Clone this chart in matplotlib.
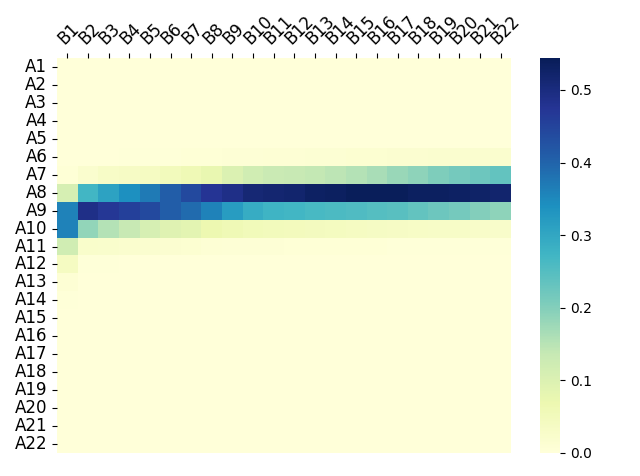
import numpy as np
import matplotlib
matplotlib.use("Agg")
import matplotlib.pyplot as plt
import seaborn as sns

row_labels = [f"A{i}" for i in range(1, 23)]
col_labels = [f"B{i}" for i in range(1, 23)]

z = [0.0] * 22
row_A1 = z
row_A2 = z
row_A3 = z
row_A4 = z
row_A5 = [0.001] * 22
row_A6 = [0.002, 0.002, 0.002, 0.003, 0.003, 0.004, 0.005, 0.006, 0.007, 0.008, 0.009, 0.010,
          0.011, 0.012, 0.013, 0.014, 0.015, 0.016, 0.017, 0.018, 0.019, 0.020]
row_A7 = [0.005, 0.02, 0.03, 0.035, 0.04, 0.05, 0.06, 0.075, 0.10, 0.12, 0.13, 0.135,
          0.14, 0.145, 0.155, 0.165, 0.18, 0.19, 0.205, 0.215, 0.225, 0.235]
row_A8 = [0.11, 0.27, 0.31, 0.34, 0.37, 0.41, 0.44, 0.475, 0.49, 0.51, 0.515, 0.52,
          0.53, 0.535, 0.54, 0.54, 0.54, 0.535, 0.535, 0.53, 0.525, 0.52]
row_A9 = [0.36, 0.49, 0.47, 0.455, 0.44, 0.41, 0.39, 0.36, 0.32, 0.29, 0.275, 0.27,
          0.265, 0.26, 0.255, 0.25, 0.245, 0.235, 0.225, 0.215, 0.2, 0.19]
row_A10 = [0.36, 0.185, 0.155, 0.135, 0.11, 0.095, 0.085, 0.07, 0.06, 0.055, 0.05, 0.048,
           0.045, 0.043, 0.04, 0.038, 0.035, 0.033, 0.03, 0.03, 0.028, 0.027]
row_A11 = [0.12, 0.025, 0.022, 0.02, 0.018, 0.015, 0.013, 0.01, 0.008, 0.007, 0.007, 0.006,
           0.006, 0.005, 0.005, 0.005, 0.004, 0.004, 0.004, 0.004, 0.003, 0.003]
row_A12 = [0.04, 0.003, 0.003, 0.002, 0.002, 0.002, 0.002, 0.002, 0.001, 0.001, 0.001, 0.001,
           0.001, 0.001, 0.001, 0.001, 0.001, 0.001, 0.001, 0.001, 0.001, 0.001]
row_A13 = [0.01] + [0.0] * 21
row_A14 = [0.003] + [0.0] * 21
row_A15 = z
row_A16 = z
row_A17 = z
row_A18 = z
row_A19 = z
row_A20 = z
row_A21 = z
row_A22 = z

data = np.array([row_A1, row_A2, row_A3, row_A4, row_A5, row_A6, row_A7, row_A8, row_A9,
                 row_A10, row_A11, row_A12, row_A13, row_A14, row_A15, row_A16, row_A17,
                 row_A18, row_A19, row_A20, row_A21, row_A22])

fig = plt.figure(figsize=(6.4, 4.76), dpi=100)
ax = fig.add_axes([57/640, 1 - 453/476, (511-57)/640, (453-58)/476])
cax = fig.add_axes([540/640, 1 - 453/476, (560-540)/640, (453-58)/476])

sns.heatmap(data, ax=ax, cbar_ax=cax, cmap="YlGnBu", vmin=0, vmax=0.544,
            xticklabels=col_labels, yticklabels=row_labels)
ax.xaxis.tick_top()
plt.setp(ax.get_xticklabels(), rotation=45, ha="left", rotation_mode="anchor", fontsize=12)
plt.setp(ax.get_yticklabels(), rotation=0, fontsize=12)
cax.tick_params(labelsize=10)

fig.savefig("out.png", dpi=100)
